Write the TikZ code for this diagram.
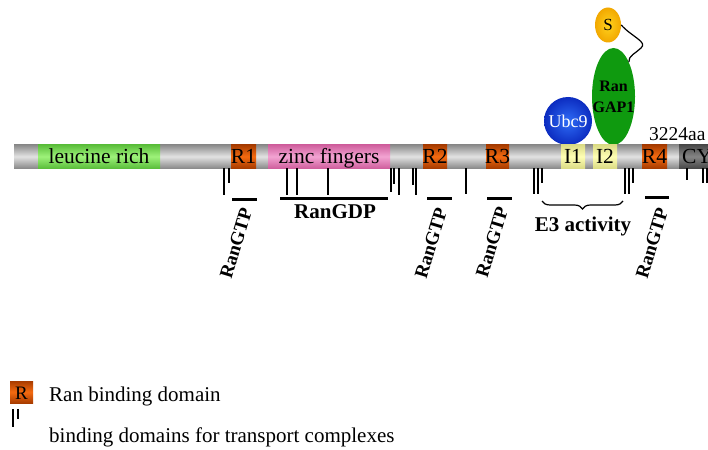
\documentclass[tikz,border=0pt]{standalone}
\usepackage{fontspec}
\setmainfont{Liberation Serif}
\usetikzlibrary{decorations.pathreplacing,shapes.geometric}
\definecolor{barE}{HTML}{8C8C8C}
\definecolor{barM}{HTML}{E2E2E2}
\definecolor{grnE}{HTML}{5CBF3C}
\definecolor{grnM}{HTML}{9EF27A}
\definecolor{pnkE}{HTML}{D0609E}
\definecolor{pnkM}{HTML}{F2A4D2}
\definecolor{orgE}{HTML}{A83C00}
\definecolor{orgM}{HTML}{F46A10}
\definecolor{yelE}{HTML}{DCDC86}
\definecolor{yelM}{HTML}{FFFFB4}
\definecolor{cyE}{HTML}{4A4A4A}
\definecolor{cyM}{HTML}{858585}
\definecolor{ubcIn}{HTML}{2E6CF6}
\definecolor{ubcOut}{HTML}{0C2CC0}
\definecolor{gapG}{HTML}{0F9A0F}
\definecolor{sIn}{HTML}{FFD21E}
\definecolor{sOut}{HTML}{F2A800}
\begin{document}
\begin{tikzpicture}[x=1pt,y=-1pt,
  dombox/.style 2 args={top color=#1, bottom color=#1, middle color=#2},
  barlbl/.style={anchor=base, inner sep=0pt, font=\fontsize{21.5}{21.5}\selectfont},
  tick/.style={line width=1.3pt, black},
  gtpbar/.style={line width=3pt, black},
  gtplbl/.style={inner sep=0pt, rotate=73, font=\bfseries\fontsize{19}{19}\selectfont},
  boldlbl/.style={anchor=base, inner sep=0pt, font=\bfseries\fontsize{21}{21}\selectfont},
  leglbl/.style={anchor=base west, inner sep=0pt, font=\fontsize{21}{21}\selectfont}]
\useasboundingbox (0,0) rectangle (708,449);
\fill[white] (0,0) rectangle (708,449);

% proteins on top
\node[ellipse, minimum width=43, minimum height=97, inner sep=0pt, fill=gapG] (gap) at (613.5,96.5) {};
\node[circle, minimum size=48, inner sep=0pt, shade, shading=radial, inner color=ubcIn, outer color=ubcOut] (ubc) at (568,121) {};
\node[ellipse, minimum width=26, minimum height=35, inner sep=0pt, shade, shading=radial, inner color=sIn, outer color=sOut] (S) at (608,25) {};
\draw[line width=1.2pt] (S.east) .. controls (632,37) and (648,42) .. (641,48) .. controls (636,53) and (628,56) .. (gap.north east);
\node[anchor=base, inner sep=0pt, font=\fontsize{17}{17}\selectfont] (Slbl) at (608,31) {S};
\node[anchor=base, inner sep=0pt, font=\bfseries\fontsize{16}{16}\selectfont] (ran) at (613.5,92) {Ran};
\node[anchor=base, inner sep=0pt, font=\bfseries\fontsize{16}{16}\selectfont] (gap1) at (613.5,113) {GAP1};
\node[anchor=base, inner sep=0pt, text=white, font=\fontsize{18}{18}\selectfont] (ubclbl) at (568,128) {Ubc9};
\node[anchor=base west, inner sep=0pt, font=\fontsize{19.5}{19.5}\selectfont] (len) at (649,140) {3224aa};

% main bar
\shade[dombox={barE}{barM}] (14,145) rectangle (708,168);
\shade[dombox={grnE}{grnM}] (38,145) rectangle (160,168);
\shade[dombox={orgE}{orgM}] (231,145) rectangle (256,168);
\shade[dombox={pnkE}{pnkM}] (268,145) rectangle (390,168);
\shade[dombox={orgE}{orgM}] (423,145) rectangle (447,168);
\shade[dombox={orgE}{orgM}] (486,145) rectangle (509,168);
\shade[dombox={yelE}{yelM}] (561,145) rectangle (585,168);
\shade[dombox={yelE}{yelM}] (593,145) rectangle (617,168);
\shade[dombox={orgE}{orgM}] (642,145) rectangle (667,168);
\shade[dombox={cyE}{cyM}] (679,145) rectangle (708,168);

\node[barlbl] (leu) at (99,163) {leucine rich};
\node[barlbl] (r1) at (243.5,163) {R1};
\node[barlbl] (zf) at (329,163) {zinc fingers};
\node[barlbl] (r2) at (435,163) {R2};
\node[barlbl] (r3) at (497.5,163) {R3};
\node[barlbl] (i1) at (573,163) {I1};
\node[barlbl] (i2) at (605,163) {I2};
\node[barlbl] (r4) at (654.5,163) {R4};
\node[barlbl, anchor=base west] (cy) at (682,163) {CY};

% transport complex ticks
\foreach \x/\y in {224/195,229/183,287/195,297/195,328/195,391/192,394/184,399/195,413/185,416/195,
                   466/194,534/194,538/194,542/183,625/194,629/194,633/183,687/180,703/183,707/183}
  \draw[tick] (\x,168) -- (\x,\y);

% binding bars
\draw[gtpbar] (232,199) -- (257,199);
\draw[gtpbar] (280,198) -- (388,198);
\draw[gtpbar] (427,198) -- (452,198);
\draw[gtpbar] (487,198) -- (512,198);
\draw[gtpbar] (645,197) -- (669,197);

\node[gtplbl] (g1) at (236,243) {RanGTP};
\node[gtplbl] (g2) at (431,243) {RanGTP};
\node[gtplbl] (g3) at (492,242) {RanGTP};
\node[gtplbl] (g4) at (652,243) {RanGTP};
\node[boldlbl] (gdp) at (335,218) {RanGDP};

\coordinate (bl) at (542,201);
\coordinate (br) at (623,201);
\draw[line width=1.2pt, decorate, decoration={brace, mirror, amplitude=8pt}] (bl) -- (br);
\node[boldlbl] (e3) at (583,231) {E3 activity};

% legend
\shade[dombox={orgE}{orgM}] (10,381) rectangle (33,403);
\node[anchor=base, inner sep=0pt, font=\fontsize{19}{19}\selectfont] (legR) at (21.5,399) {R};
\node[leglbl] (leg1) at (49,401) {Ran binding domain};
\draw[tick] (13,409) -- (13,427);
\draw[tick] (18,409) -- (18,419);
\node[leglbl] (leg2) at (49,442) {binding domains for transport complexes};
\end{tikzpicture}
\end{document}
